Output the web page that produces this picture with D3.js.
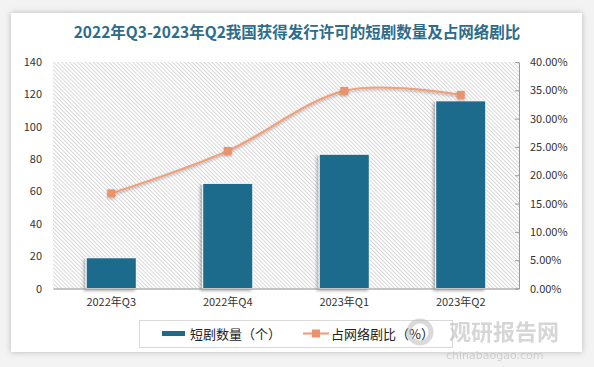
<!DOCTYPE html>
<html>
<head>
<meta charset="utf-8">
<script src="https://cdn.jsdelivr.net/npm/d3@7"></script>
<style>
  html, body { margin: 0; padding: 0; background: #f3f3f3; }
  body { width: 594px; height: 367px; overflow: hidden; position: relative; }
  #card { position: absolute; left: 11px; top: 13px; width: 571px; height: 339px; background: #fff;
          box-shadow: 0 0 6px rgba(0,0,0,0.25); }
  svg { position: absolute; left: 0; top: 0; }
</style>
</head>
<body>
<div id="card"></div>
<svg id="chart" width="594" height="367"></svg>
<script>
const title = "2022年Q3-2023年Q2我国获得发行许可的短剧数量及占网络剧比";
const categories = ["2022年Q3", "2022年Q4", "2023年Q1", "2023年Q2"];
const counts = [19, 65, 83, 116];
const shares = [0.168, 0.243, 0.349, 0.342];
const leftTicks = [0, 20, 40, 60, 80, 100, 120, 140];
const rightTicks = [0, 0.05, 0.10, 0.15, 0.20, 0.25, 0.30, 0.35, 0.40];
const legendLabels = ["短剧数量（个）", "占网络剧比（%）"];

const barColor = "#1e6a8c";
const lineColor = "#efa07d";
const markerColor = "#e8936b";
const font = "'Noto Sans CJK SC', 'DejaVu Sans', sans-serif";

const svg = d3.select("#chart");
const plot = { left: 53, right: 519, top: 62, bottom: 288.5 };

const defs = svg.append("defs");
const pat = defs.append("pattern").attr("id", "hatch").attr("patternUnits", "userSpaceOnUse")
  .attr("width", 2.8).attr("height", 2.8).attr("patternTransform", "rotate(45)");
pat.append("rect").attr("width", 2.8).attr("height", 2.8).attr("fill", "#ffffff");
pat.append("line").attr("x1", 0).attr("x2", 2.8).attr("y1", 0.5).attr("y2", 0.5)
  .attr("stroke", "#d2d2d2").attr("stroke-width", 0.9);

const sh = defs.append("filter").attr("id", "shadow").attr("x", "-20%").attr("y", "-20%").attr("width", "140%").attr("height", "140%");
sh.append("feDropShadow").attr("dx", -2).attr("dy", 2).attr("stdDeviation", 1.5).attr("flood-color", "#000").attr("flood-opacity", 0.3);
const sh2 = defs.append("filter").attr("id", "shadow2").attr("x", "-50%").attr("y", "-50%").attr("width", "200%").attr("height", "200%");
sh2.append("feDropShadow").attr("dx", 0).attr("dy", 1.5).attr("stdDeviation", 1.2).attr("flood-color", "#000").attr("flood-opacity", 0.25);

// Title
svg.append("text").attr("x", 297).attr("y", 38).attr("text-anchor", "middle")
  .attr("font-family", font).attr("font-weight", "bold").attr("font-size", 15.5)
  .attr("fill", "#2d6c8b").text(title);

// plot background
svg.append("rect").attr("x", plot.left).attr("y", plot.top)
  .attr("width", plot.right - plot.left).attr("height", plot.bottom - plot.top)
  .attr("fill", "url(#hatch)");

const x = d3.scaleBand().domain(categories).range([plot.left, plot.right]).padding(0);
const yL = d3.scaleLinear().domain([0, 140]).range([plot.bottom, plot.top]);
const yR = d3.scaleLinear().domain([0, 0.40]).range([plot.bottom, plot.top]);
const barW = x.bandwidth() * 0.43;

// bars
svg.append("g").selectAll("rect").data(categories).join("rect")
  .attr("x", d => x(d) + x.bandwidth() / 2 - barW / 2)
  .attr("y", (d, i) => yL(counts[i]))
  .attr("width", barW)
  .attr("height", (d, i) => yL(0) - yL(counts[i]))
  .attr("fill", barColor).attr("stroke", "#ffffff").attr("stroke-width", 1)
  .attr("filter", "url(#shadow)");

// left axis
const gL = svg.append("g").attr("transform", `translate(${plot.left},0)`)
  .call(d3.axisLeft(yL).tickValues(leftTicks).tickSize(0).tickPadding(11));
gL.select(".domain").remove();
gL.selectAll("text").attr("font-family", font).attr("font-size", 11).attr("fill", "#333");

// right axis
const gR = svg.append("g").attr("transform", `translate(${plot.right},0)`)
  .call(d3.axisRight(yR).tickValues(rightTicks).tickFormat(d3.format(".2%")).tickSizeInner(-4).tickSizeOuter(0).tickPadding(11));
gR.select(".domain").attr("stroke", "#9a9a9a");
gR.selectAll(".tick line").attr("stroke", "#9a9a9a");
gR.selectAll("text").attr("font-family", font).attr("font-size", 11).attr("fill", "#333");

// bottom axis
const gB = svg.append("g").attr("transform", `translate(0,${plot.bottom})`)
  .call(d3.axisBottom(x).tickSize(0).tickPadding(10));
gB.select(".domain").attr("stroke", "#8c8c8c");
gB.selectAll("text").attr("font-family", font).attr("font-size", 11).attr("fill", "#333");

// line
const line = d3.line()
  .x((d, i) => x(categories[i]) + x.bandwidth() / 2)
  .y(d => yR(d))
  .curve(d3.curveCatmullRom.alpha(0));
svg.append("path").datum(shares).attr("d", line)
  .attr("fill", "none").attr("stroke", lineColor).attr("stroke-width", 2.2)
  .attr("filter", "url(#shadow2)");
svg.append("g").selectAll("rect").data(shares).join("rect")
  .attr("x", (d, i) => x(categories[i]) + x.bandwidth() / 2 - 4)
  .attr("y", d => yR(d) - 4)
  .attr("width", 8).attr("height", 8)
  .attr("fill", markerColor).attr("filter", "url(#shadow2)");

// legend
const lg = svg.append("g");
lg.append("rect").attr("x", 139.5).attr("y", 320.5).attr("width", 313).attr("height", 27)
  .attr("fill", "#fff").attr("stroke", "#d9d9d9");
lg.append("rect").attr("x", 162).attr("y", 331).attr("width", 23).attr("height", 5).attr("fill", barColor);
lg.append("text").attr("x", 190).attr("y", 338.5).attr("font-family", font).attr("font-size", 13)
  .attr("fill", "#222").text(legendLabels[0]);
lg.append("line").attr("x1", 303).attr("x2", 329).attr("y1", 333.5).attr("y2", 333.5)
  .attr("stroke", lineColor).attr("stroke-width", 2.2);
lg.append("rect").attr("x", 312).attr("y", 329.5).attr("width", 8).attr("height", 8).attr("fill", markerColor);
lg.append("text").attr("x", 331).attr("y", 338.5).attr("font-family", font).attr("font-size", 13)
  .attr("fill", "#222").text(legendLabels[1]);

// watermark
const wm = svg.append("g").attr("opacity", 0.55);
wm.append("circle").attr("cx", 420).attr("cy", 332).attr("r", 11).attr("fill", "none")
  .attr("stroke", "#bdbdbd").attr("stroke-width", 5);
wm.append("text").attr("x", 449).attr("y", 340).attr("font-family", font).attr("font-weight", "bold")
  .attr("font-size", 22).attr("fill", "#b5b5b5").text("观研报告网");
wm.append("text").attr("x", 446).attr("y", 359).attr("font-family", "'DejaVu Sans', sans-serif")
  .attr("font-size", 11).attr("fill", "#b5b5b5").text("chinabaogao.com");
</script>
</body>
</html>
